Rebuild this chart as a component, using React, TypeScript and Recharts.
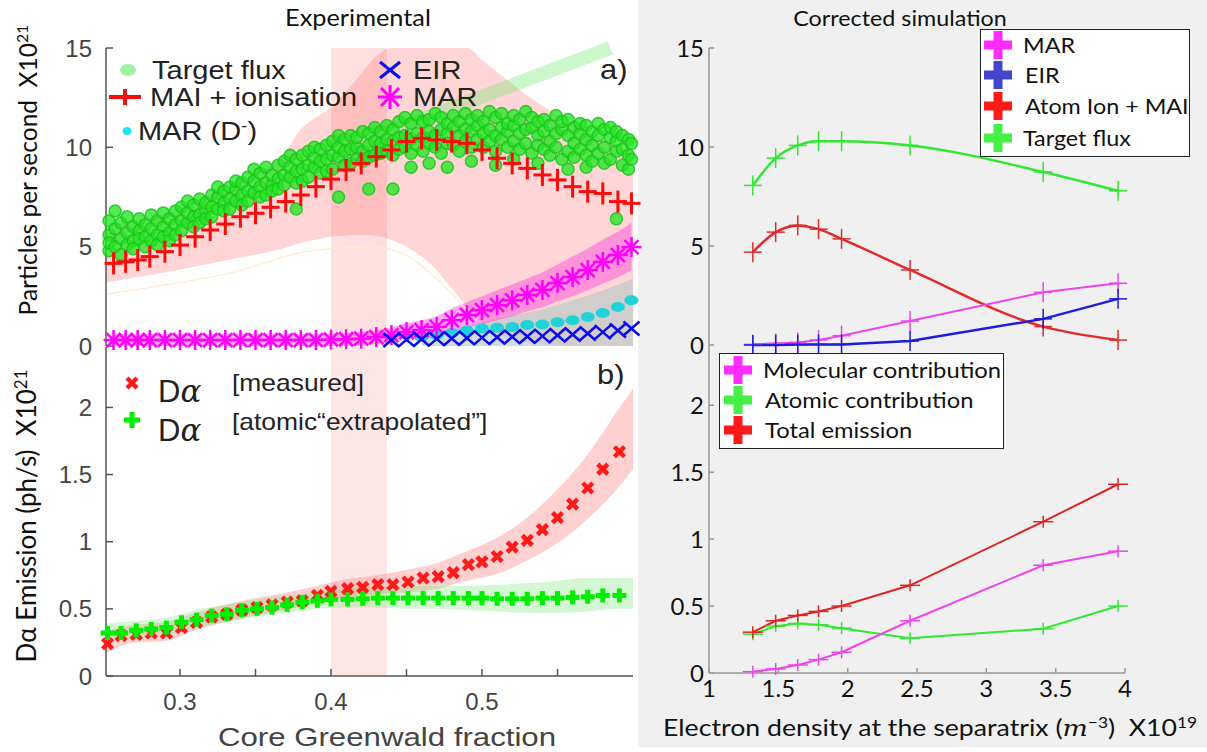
import React from 'react';
import {
  ComposedChart,
  LineChart,
  Line,
  Area,
  Scatter,
  XAxis,
  YAxis,
  ReferenceArea,
  ReferenceLine,
} from 'recharts';

const SANS = '"Liberation Sans", Arial, sans-serif';
const CAL = 'Lato, "Open Sans", sans-serif';
const AX = '#555';
const AXR = '#999';

// ---------- panel a) experimental particle balance ----------
const redX = [0.256, 0.264, 0.272, 0.28, 0.29, 0.3, 0.31, 0.32, 0.33, 0.34, 0.35, 0.36, 0.37, 0.38, 0.39, 0.4, 0.41, 0.42, 0.43, 0.44, 0.45, 0.46, 0.47, 0.48, 0.49, 0.5, 0.51, 0.52, 0.53, 0.54, 0.55, 0.56, 0.57, 0.58, 0.59, 0.599];
const maiIon = [4.16, 4.24, 4.33, 4.5, 4.75, 5.08, 5.5, 5.84, 6.14, 6.51, 6.68, 6.98, 7.27, 7.6, 8.02, 8.4, 8.86, 9.19, 9.53, 9.87, 10.29, 10.45, 10.37, 10.29, 10.2, 9.87, 9.45, 9.19, 8.94, 8.61, 8.36, 8.02, 7.77, 7.68, 7.27, 7.18];
const marA = [0.3, 0.3, 0.3, 0.3, 0.3, 0.3, 0.3, 0.3, 0.3, 0.3, 0.3, 0.3, 0.3, 0.3, 0.3, 0.32, 0.34, 0.37, 0.45, 0.55, 0.7, 0.8, 0.96, 1.3, 1.56, 1.81, 2.06, 2.3, 2.57, 2.82, 3.17, 3.47, 3.82, 4.23, 4.58, 4.98];
const marHi = [0.6, 0.6, 0.6, 0.6, 0.6, 0.6, 0.6, 0.6, 0.6, 0.6, 0.6, 0.6, 0.6, 0.6, 0.6, 0.62, 0.65, 0.7, 0.8, 0.95, 1.15, 1.3, 1.5, 1.9, 2.2, 2.5, 2.8, 3.1, 3.4, 3.7, 4.1, 4.5, 4.9, 5.35, 5.75, 6.2];
const marLo = [0, 0, 0, 0, 0, 0, 0, 0, 0, 0, 0, 0, 0, 0, 0, 0, 0, 0.05, 0.1, 0.2, 0.3, 0.35, 0.45, 0.7, 0.9, 1.1, 1.3, 1.5, 1.75, 1.95, 2.25, 2.5, 2.8, 3.15, 3.45, 3.8];

const bandAX = [0.251, 0.27, 0.29, 0.31, 0.33, 0.35, 0.37, 0.38, 0.39, 0.4, 0.41, 0.42, 0.43, 0.44, 0.45, 0.46, 0.47, 0.48, 0.49, 0.5, 0.51, 0.53, 0.56, 0.6];
const maiLo = [3.2, 3.45, 3.7, 4.0, 4.3, 4.6, 4.95, 5.2, 5.35, 5.5, 5.55, 5.6, 5.55, 5.35, 5.0, 4.5, 3.8, 2.9, 2.0, 1.2, 0.6, 0.2, 0, 0];
const maiHi = [6.0, 6.3, 6.6, 7.3, 7.9, 8.6, 9.8, 10.9, 11.5, 12.0, 12.8, 13.7, 14.6, 15, 15, 15, 15, 15, 15, 14.4, 13.8, 12.6, 11.2, 9.6];

const paleX = [0.251, 0.3, 0.335, 0.38, 0.4, 0.426, 0.449, 0.471, 0.484, 0.49];
const paleY = [2.6, 3.2, 3.7, 4.7, 4.9, 5.0, 4.6, 3.3, 2.3, 1.8];

const dmX = [0.46, 0.47, 0.48, 0.49, 0.5, 0.51, 0.52, 0.53, 0.54, 0.55, 0.56, 0.57, 0.58, 0.59, 0.599];
const dmA = [0.45, 0.55, 0.65, 0.78, 0.88, 0.92, 0.96, 1.06, 1.08, 1.2, 1.3, 1.46, 1.66, 1.96, 2.3];
const dmBandX = [0.46, 0.48, 0.5, 0.52, 0.54, 0.56, 0.58, 0.6];
const dmBandHi = [0.4, 0.8, 1.2, 1.55, 1.85, 2.3, 2.8, 3.4];

const eirX = [0.44, 0.45, 0.46, 0.47, 0.48, 0.49, 0.5, 0.51, 0.52, 0.53, 0.54, 0.55, 0.56, 0.57, 0.58, 0.59, 0.599];
const eirA = [0.3, 0.32, 0.34, 0.36, 0.38, 0.4, 0.42, 0.44, 0.46, 0.48, 0.5, 0.54, 0.58, 0.63, 0.7, 0.78, 0.88];

// target flux cloud [x, particles/s]
const fluxPts: [number, number][] = [
  [0.253, 4.8], [0.253, 5.6], [0.253, 6.3], [0.253, 5.2], [0.257, 5.9], [0.257, 6.8], [0.257, 5.0],
  [0.261, 5.4], [0.261, 6.2], [0.261, 4.6], [0.265, 5.7], [0.265, 6.5], [0.265, 5.1],
  [0.269, 5.3], [0.269, 6.0], [0.269, 4.9], [0.273, 5.8], [0.273, 6.4], [0.273, 5.4],
  [0.277, 5.5], [0.277, 6.1], [0.277, 5.0], [0.281, 5.9], [0.281, 6.6], [0.281, 5.3],
  [0.285, 5.6], [0.285, 6.3], [0.285, 5.1], [0.289, 6.0], [0.289, 6.7], [0.289, 5.5],
  [0.293, 5.7], [0.293, 6.4], [0.293, 5.3], [0.297, 6.1], [0.297, 6.8], [0.297, 5.6],
  [0.301, 6.3], [0.301, 7.0], [0.301, 5.8], [0.305, 6.2], [0.305, 6.7], [0.305, 7.3],
  [0.309, 6.5], [0.309, 7.1], [0.309, 6.0], [0.313, 6.6], [0.313, 7.4], [0.313, 6.2],
  [0.317, 6.8], [0.317, 7.2], [0.317, 6.4], [0.321, 7.0], [0.321, 7.6], [0.321, 6.5],
  [0.325, 6.9], [0.325, 7.5], [0.325, 8.0], [0.329, 7.2], [0.329, 7.8], [0.329, 6.8],
  [0.333, 7.4], [0.333, 8.0], [0.333, 6.9], [0.337, 7.3], [0.337, 7.9], [0.337, 8.3],
  [0.341, 7.6], [0.341, 8.2], [0.341, 7.1], [0.345, 7.8], [0.345, 8.5], [0.345, 7.3],
  [0.349, 7.7], [0.349, 8.3], [0.349, 8.9], [0.353, 8.0], [0.353, 8.7], [0.353, 7.5],
  [0.357, 8.2], [0.357, 9.0], [0.357, 7.6], [0.361, 8.1], [0.361, 8.6], [0.361, 7.8],
  [0.365, 8.4], [0.365, 9.1], [0.365, 7.9], [0.369, 8.6], [0.369, 9.3], [0.369, 8.1],
  [0.373, 8.5], [0.373, 9.0], [0.373, 9.6], [0.377, 8.8], [0.377, 9.4], [0.377, 8.2], [0.377, 6.9],
  [0.381, 8.9], [0.381, 9.6], [0.381, 8.3], [0.385, 9.1], [0.385, 9.8], [0.385, 8.5],
  [0.389, 9.0], [0.389, 9.5], [0.389, 10.0], [0.393, 9.3], [0.393, 9.9], [0.393, 8.7],
  [0.397, 9.4], [0.397, 10.1], [0.397, 8.8], [0.401, 9.6], [0.401, 10.3], [0.401, 8.9],
  [0.405, 9.5], [0.405, 10.0], [0.405, 10.6], [0.405, 7.5], [0.409, 9.8], [0.409, 10.4], [0.409, 9.1],
  [0.413, 9.9], [0.413, 10.6], [0.413, 9.2], [0.417, 10.0], [0.417, 10.5], [0.417, 9.4],
  [0.421, 9.8], [0.421, 10.8], [0.421, 9.3], [0.425, 10.1], [0.425, 10.7], [0.425, 9.5], [0.425, 7.9],
  [0.429, 10.3], [0.429, 11.0], [0.429, 9.6], [0.433, 10.2], [0.433, 10.8], [0.433, 9.7],
  [0.437, 10.4], [0.437, 11.1], [0.437, 9.8], [0.441, 10.3], [0.441, 10.9], [0.441, 9.6], [0.441, 7.9],
  [0.445, 10.5], [0.445, 11.3], [0.445, 9.9], [0.449, 10.6], [0.449, 11.5], [0.449, 10.0],
  [0.453, 10.4], [0.453, 11.2], [0.453, 9.7], [0.453, 9.0], [0.457, 10.7], [0.457, 11.6], [0.457, 10.1],
  [0.461, 10.5], [0.461, 11.3], [0.461, 9.8], [0.465, 10.8], [0.465, 11.4], [0.465, 10.2], [0.465, 9.2],
  [0.469, 10.6], [0.469, 11.7], [0.469, 10.0], [0.473, 10.9], [0.473, 11.5], [0.473, 9.7],
  [0.477, 10.7], [0.477, 11.2], [0.477, 10.2], [0.477, 9.0], [0.481, 11.0], [0.481, 11.6], [0.481, 10.1],
  [0.485, 10.6], [0.485, 11.3], [0.485, 9.8], [0.489, 10.9], [0.489, 11.7], [0.489, 10.3],
  [0.493, 10.8], [0.493, 11.4], [0.493, 10.0], [0.493, 9.3], [0.497, 11.1], [0.497, 11.6], [0.497, 10.4],
  [0.501, 10.7], [0.501, 11.3], [0.501, 10.0], [0.505, 10.9], [0.505, 11.8], [0.505, 10.3],
  [0.509, 10.6], [0.509, 11.5], [0.509, 9.8], [0.509, 9.1], [0.513, 11.0], [0.513, 11.7], [0.513, 10.4],
  [0.517, 10.8], [0.517, 11.2], [0.517, 10.0], [0.521, 11.1], [0.521, 11.6], [0.521, 10.3], [0.521, 9.4],
  [0.525, 10.7], [0.525, 11.4], [0.525, 9.9], [0.529, 10.9], [0.529, 11.8], [0.529, 10.2],
  [0.533, 11.0], [0.533, 11.5], [0.533, 9.7], [0.537, 10.6], [0.537, 11.3], [0.537, 10.1], [0.537, 9.2],
  [0.541, 10.8], [0.541, 11.4], [0.541, 9.9], [0.545, 11.1], [0.545, 10.3], [0.545, 9.6],
  [0.549, 10.7], [0.549, 11.6], [0.549, 10.0], [0.553, 10.9], [0.553, 11.3], [0.553, 9.4],
  [0.557, 10.6], [0.557, 11.4], [0.557, 9.8], [0.557, 8.9], [0.561, 11.0], [0.561, 10.2], [0.561, 9.5],
  [0.565, 10.7], [0.565, 11.2], [0.565, 9.9], [0.569, 10.4], [0.569, 11.1], [0.569, 9.6], [0.569, 9.0],
  [0.573, 10.8], [0.573, 10.1], [0.573, 9.3], [0.577, 10.6], [0.577, 11.2], [0.577, 9.7],
  [0.581, 10.9], [0.581, 10.0], [0.581, 9.2], [0.585, 10.5], [0.585, 11.0], [0.585, 9.4],
  [0.589, 10.3], [0.589, 10.8], [0.589, 9.8], [0.589, 6.4], [0.593, 10.6], [0.593, 9.9], [0.593, 9.1],
  [0.597, 10.4], [0.597, 9.6], [0.597, 8.9], [0.599, 10.2], [0.599, 9.4],
];

// ---------- panel b) D-alpha emission ----------
const dalX = [0.252, 0.261, 0.271, 0.281, 0.291, 0.301, 0.311, 0.321, 0.331, 0.341, 0.351, 0.361, 0.371, 0.381, 0.391, 0.4, 0.411, 0.421, 0.431, 0.441, 0.451, 0.461, 0.471, 0.481, 0.491, 0.5, 0.51, 0.52, 0.53, 0.54, 0.55, 0.56, 0.57, 0.58, 0.591];
const dalMeas = [0.24, 0.3, 0.31, 0.32, 0.32, 0.36, 0.4, 0.44, 0.46, 0.49, 0.51, 0.53, 0.55, 0.56, 0.6, 0.63, 0.65, 0.66, 0.68, 0.68, 0.7, 0.73, 0.74, 0.77, 0.83, 0.85, 0.89, 0.96, 1.01, 1.09, 1.18, 1.28, 1.4, 1.54, 1.67];
const dalAtom = [0.32, 0.32, 0.34, 0.35, 0.36, 0.4, 0.42, 0.45, 0.46, 0.49, 0.5, 0.51, 0.53, 0.55, 0.56, 0.57, 0.57, 0.575, 0.58, 0.58, 0.58, 0.58, 0.58, 0.58, 0.58, 0.58, 0.575, 0.575, 0.575, 0.58, 0.58, 0.585, 0.59, 0.6, 0.6];
const bandBX = [0.251, 0.27, 0.29, 0.31, 0.33, 0.35, 0.37, 0.39, 0.41, 0.43, 0.45, 0.47, 0.49, 0.51, 0.53, 0.55, 0.57, 0.59, 0.6];
const measHi = [0.34, 0.38, 0.4, 0.47, 0.53, 0.58, 0.62, 0.67, 0.72, 0.75, 0.79, 0.84, 0.93, 1.03, 1.18, 1.39, 1.65, 1.98, 2.14];
const measLo = [0.17, 0.25, 0.26, 0.34, 0.4, 0.45, 0.49, 0.54, 0.58, 0.61, 0.62, 0.65, 0.71, 0.76, 0.86, 0.99, 1.17, 1.4, 1.54];
const atomHi = [0.39, 0.41, 0.43, 0.49, 0.53, 0.57, 0.6, 0.63, 0.65, 0.66, 0.67, 0.67, 0.67, 0.68, 0.69, 0.71, 0.73, 0.73, 0.73];
const atomLo = [0.26, 0.28, 0.3, 0.36, 0.4, 0.44, 0.47, 0.5, 0.51, 0.51, 0.5, 0.5, 0.49, 0.48, 0.47, 0.47, 0.48, 0.5, 0.5];

// ---------- corrected simulation ----------
const simX = [1.316, 1.481, 1.64, 1.79, 1.956, 2.45, 3.41, 3.95];
const simTarget = [8.06, 9.44, 10.08, 10.29, 10.29, 10.08, 8.74, 7.79];
const simAtomIon = [4.69, 5.7, 6.04, 5.85, 5.36, 3.79, 0.93, 0.25];
const simMar = [0.03, 0.08, 0.13, 0.25, 0.47, 1.21, 2.66, 3.12];
const simEir = [0.0, 0.0, 0.02, 0.03, 0.03, 0.2, 1.32, 2.33];
const emTotal = [0.305, 0.39, 0.43, 0.46, 0.5, 0.655, 1.13, 1.41];
const emAtomic = [0.29, 0.35, 0.37, 0.36, 0.335, 0.26, 0.33, 0.5];
const emMolecular = [0.01, 0.03, 0.06, 0.1, 0.155, 0.39, 0.805, 0.91];

const xTicksL = [0.3, 0.35, 0.4, 0.45, 0.5, 0.55];
const xTicksR = [1, 1.5, 2, 2.5, 3, 3.5, 4];

type Row = { x: number; [k: string]: any };
function merge(sets: [number[], string, any[]][]): Row[] {
  const m = new Map<number, Row>();
  sets.forEach(([xs, key, vals]) => {
    xs.forEach((x, i) => {
      const r = m.get(x) || { x };
      r[key] = vals[i];
      m.set(x, r);
    });
  });
  return Array.from(m.values()).sort((a, b) => a.x - b.x);
}
const pair = (lo: number[], hi: number[]) => lo.map((l, i) => [l, hi[i]]);
const pts = (xs: number[], ys: number[]) => xs.map((x, i) => ({ x, y: ys[i] }));

const rowsA = merge([
  [bandAX, 'maiBand', pair(maiLo, maiHi)],
  [paleX, 'pale', paleY],
  [redX, 'marBand', pair(marLo, marHi)],
  [dmBandX, 'dmBand', pair(dmBandHi.map(() => 0), dmBandHi)],
]);
const rowsB = merge([
  [bandBX, 'measBand', pair(measLo, measHi)],
  [bandBX, 'atomBand', pair(atomLo, atomHi)],
]);
const rowsTop = simX.map((x, i) => ({ x, target: simTarget[i], atom: simAtomIon[i], mar: simMar[i], eir: simEir[i] }));
const rowsBot = simX.map((x, i) => ({ x, total: emTotal[i], atomic: emAtomic[i], molecular: emMolecular[i] }));

const fmtL = (v: number) => (Math.abs(v * 10 - Math.round(v * 10)) < 1e-6 ? v.toFixed(1) : '');

// ---------- markers ----------
const RedPlus = (p: any) => (
  <g stroke="#ff0a0a" strokeWidth={3}>
    <line x1={p.cx - 9} x2={p.cx + 9} y1={p.cy} y2={p.cy} />
    <line x1={p.cx} x2={p.cx} y1={p.cy - 11} y2={p.cy + 11} />
  </g>
);
const Asterisk = (p: any) => (
  <g stroke="#ff00ff" strokeWidth={2.5}>
    <line x1={p.cx - 10} x2={p.cx + 10} y1={p.cy} y2={p.cy} />
    <line x1={p.cx} x2={p.cx} y1={p.cy - 10} y2={p.cy + 10} />
    <line x1={p.cx - 7} x2={p.cx + 7} y1={p.cy - 7} y2={p.cy + 7} />
    <line x1={p.cx - 7} x2={p.cx + 7} y1={p.cy + 7} y2={p.cy - 7} />
  </g>
);
const CyanDot = (p: any) => <ellipse cx={p.cx} cy={p.cy} rx={7} ry={5} fill="#1fd3d8" />;
const BlueX = (p: any) => (
  <g stroke="#0a0aee" strokeWidth={2.5}>
    <line x1={p.cx - 8} x2={p.cx + 8} y1={p.cy - 7} y2={p.cy + 7} />
    <line x1={p.cx - 8} x2={p.cx + 8} y1={p.cy + 7} y2={p.cy - 7} />
  </g>
);
const FluxDot = (p: any) => (
  <circle cx={p.cx} cy={p.cy} r={6} fill="#22e622" fillOpacity={0.78} stroke="#1cc41c" strokeOpacity={0.85} strokeWidth={1.5} />
);
const MeasX = (p: any) => (
  <g stroke="#ff1a1a" strokeWidth={4.5}>
    <line x1={p.cx - 5} x2={p.cx + 5} y1={p.cy - 5} y2={p.cy + 5} />
    <line x1={p.cx - 5} x2={p.cx + 5} y1={p.cy + 5} y2={p.cy - 5} />
  </g>
);
const AtomPlus = (p: any) => (
  <g stroke="#00ee00" strokeWidth={5}>
    <line x1={p.cx - 7} x2={p.cx + 7} y1={p.cy} y2={p.cy} />
    <line x1={p.cx} x2={p.cx} y1={p.cy - 7} y2={p.cy + 7} />
  </g>
);
const thinPlus = (color: string, hw: number, hh: number) => (p: any) => (
  <g key={`d${p.index}`} stroke={color} strokeWidth={1.5}>
    <line x1={p.cx - hw} x2={p.cx + hw} y1={p.cy} y2={p.cy} />
    <line x1={p.cx} x2={p.cx} y1={p.cy - hh} y2={p.cy + hh} />
  </g>
);

// ---------- html helpers ----------
function Txt({ x, y, size, font = SANS, color = '#222', sx = 1, center = false, children, style }: any) {
  return (
    <div
      style={{
        position: 'absolute',
        left: x,
        top: y,
        transform: `translate(${center ? '-50%' : '0'},-50%) scaleX(${sx})`,
        transformOrigin: center ? 'center' : 'left center',
        fontFamily: font,
        fontSize: size,
        color,
        whiteSpace: 'nowrap',
        lineHeight: 1,
        ...style,
      }}
    >
      {children}
    </div>
  );
}
function VTxt({ x, y, size, children }: any) {
  return (
    <div
      style={{
        position: 'absolute',
        left: x,
        top: y,
        transform: 'translate(-50%,-50%) rotate(-90deg)',
        fontFamily: CAL,
        fontSize: size,
        color: '#111',
        whiteSpace: 'nowrap',
        lineHeight: 1,
      }}
    >
      {children}
    </div>
  );
}
function BigPlus({ x, y, color, s = 28, t = 9 }: any) {
  return (
    <svg style={{ position: 'absolute', left: x - s / 2, top: y - s / 2 }} width={s} height={s}>
      <rect x={0} y={(s - t) / 2} width={s} height={t} fill={color} />
      <rect x={(s - t) / 2} y={0} width={t} height={s} fill={color} />
    </svg>
  );
}
function Icon({ x, y, w, h, children }: any) {
  return (
    <svg style={{ position: 'absolute', left: x - w / 2, top: y - h / 2, overflow: 'visible' }} width={w} height={h}>
      {children}
    </svg>
  );
}
const sup = (s: string) => <sup style={{ fontSize: '0.65em', verticalAlign: '0.55em', lineHeight: 0 }}>{s}</sup>;

const tickL = { fontSize: 24, fill: '#444', fontFamily: SANS };
const tickR = { fontSize: 24, fill: '#111', fontFamily: CAL };

export default function App() {
  return (
    <div style={{ position: 'absolute', left: 0, top: 0, width: 1207, height: 752, background: '#fff', overflow: 'hidden' }}>
      <div style={{ position: 'absolute', left: 638, top: 0, width: 569, height: 747, background: '#f0f0f0' }} />

      {/* a) */}
      <div style={{ position: 'absolute', left: 0, top: 0 }}>
        <ComposedChart width={650} height={372} data={rowsA} margin={{ top: 48, right: 17, bottom: 26, left: 0 }}>
          <XAxis dataKey="x" type="number" domain={[0.251, 0.6]} ticks={xTicksL} tick={false} height={0} tickSize={-7} stroke={AX} strokeWidth={1.5} />
          <XAxis xAxisId="top" orientation="top" dataKey="x" type="number" domain={[0.251, 0.6]} ticks={xTicksL} tick={false} height={0} tickSize={-7} stroke={AX} strokeWidth={1.5} />
          <YAxis type="number" domain={[0, 15]} ticks={[0, 5, 10, 15]} interval={0} width={106} tickSize={-7} tickMargin={21} tick={tickL} stroke={AX} strokeWidth={1.5} />
          <YAxis yAxisId="r" orientation="right" type="number" domain={[0, 15]} ticks={[0, 5, 10, 15]} tick={false} width={0} tickSize={-7} stroke={AX} strokeWidth={1.5} />
          <Area dataKey="maiBand" type="monotone" fill="#ff9c9c" fillOpacity={0.42} stroke="none" connectNulls isAnimationActive={false} />
          <Line dataKey="pale" type="monotone" stroke="#fdecd2" strokeWidth={1.2} dot={false} connectNulls isAnimationActive={false} />
          <Area dataKey="dmBand" type="monotone" fill="#b4c8c8" fillOpacity={0.6} stroke="none" connectNulls isAnimationActive={false} />
          <Area dataKey="marBand" type="monotone" fill="#ff3ddc" fillOpacity={0.45} stroke="none" connectNulls isAnimationActive={false} />
          <ReferenceArea x1={0.4} x2={0.437} fill="#ff7070" fillOpacity={0.22} stroke="none" />
          <ReferenceLine segment={[{ x: 0.439, y: 10.8 }, { x: 0.585, y: 15 }]} stroke="#6ee86e" strokeOpacity={0.35} strokeWidth={14} />
          <Scatter data={fluxPts.map(([x, y]) => ({ x, y }))} dataKey="y" shape={FluxDot} isAnimationActive={false} />
          <Scatter data={pts(redX, maiIon)} dataKey="y" shape={RedPlus} isAnimationActive={false} />
          <Scatter data={pts(dmX, dmA)} dataKey="y" shape={CyanDot} isAnimationActive={false} />
          <Scatter data={pts(redX, marA)} dataKey="y" shape={Asterisk} isAnimationActive={false} />
          <Scatter data={pts(eirX, eirA)} dataKey="y" shape={BlueX} isAnimationActive={false} />
        </ComposedChart>
      </div>

      {/* b) */}
      <div style={{ position: 'absolute', left: 0, top: 340 }}>
        <ComposedChart width={650} height={412} data={rowsB} margin={{ top: 7, right: 17, bottom: 0, left: 0 }}>
          <XAxis dataKey="x" type="number" domain={[0.251, 0.6]} ticks={xTicksL} interval={0} tickFormatter={fmtL} height={76} tickSize={-7} tickMargin={24} tick={tickL} stroke={AX} strokeWidth={1.5} />
          <XAxis xAxisId="top" orientation="top" dataKey="x" type="number" domain={[0.251, 0.6]} ticks={xTicksL} tick={false} height={0} tickSize={-7} stroke={AX} strokeWidth={1.5} />
          <YAxis type="number" domain={[0, 2.45]} ticks={[0, 0.5, 1, 1.5, 2]} interval={0} width={106} tickSize={-7} tickMargin={21} tick={tickL} stroke={AX} strokeWidth={1.5} />
          <YAxis yAxisId="r" orientation="right" type="number" domain={[0, 2.45]} ticks={[0, 0.5, 1, 1.5, 2]} tick={false} width={0} tickSize={-7} stroke={AX} strokeWidth={1.5} />
          <ReferenceArea x1={0.4} x2={0.437} fill="#ff8080" fillOpacity={0.2} stroke="none" />
          <Area dataKey="measBand" type="monotone" fill="#ff8a8a" fillOpacity={0.4} stroke="none" isAnimationActive={false} />
          <Area dataKey="atomBand" type="monotone" fill="#7ee87e" fillOpacity={0.35} stroke="none" isAnimationActive={false} />
          <Scatter data={pts(dalX, dalMeas)} dataKey="y" shape={MeasX} isAnimationActive={false} />
          <Scatter data={pts(dalX, dalAtom)} dataKey="y" shape={AtomPlus} isAnimationActive={false} />
        </ComposedChart>
      </div>

      {/* corrected simulation, particle balance */}
      <div style={{ position: 'absolute', left: 640, top: 0 }}>
        <LineChart width={567} height={372} data={rowsTop} margin={{ top: 48, right: 82, bottom: 27, left: 0 }}>
          <XAxis dataKey="x" type="number" domain={[1, 4]} ticks={xTicksR} tick={false} height={0} tickSize={-5} stroke={AXR} strokeWidth={1.5} />
          <XAxis xAxisId="top" orientation="top" dataKey="x" type="number" domain={[1, 4]} ticks={xTicksR} tick={false} height={0} tickSize={-5} stroke={AXR} strokeWidth={1.5} />
          <YAxis type="number" domain={[0, 15]} ticks={[0, 5, 10, 15]} interval={0} width={69} tickSize={-5} tickMargin={10} tick={tickR} stroke={AXR} strokeWidth={1.5} />
          <YAxis yAxisId="r" orientation="right" type="number" domain={[0, 15]} ticks={[0, 5, 10, 15]} tick={false} width={0} tickSize={-5} stroke={AXR} strokeWidth={1.5} />
          <Line dataKey="target" type="monotone" stroke="#2fe82f" strokeWidth={2.5} dot={thinPlus('#2fe82f', 9, 10)} isAnimationActive={false} />
          <Line dataKey="atom" type="monotone" stroke="#e22a2a" strokeWidth={2.5} dot={thinPlus('#e22a2a', 9, 10)} isAnimationActive={false} />
          <Line dataKey="mar" type="linear" stroke="#ee44ee" strokeWidth={2} dot={thinPlus('#ee44ee', 9, 10)} isAnimationActive={false} />
          <Line dataKey="eir" type="linear" stroke="#1c1ce0" strokeWidth={2.5} dot={thinPlus('#1c1ce0', 9, 10)} isAnimationActive={false} />
        </LineChart>
      </div>

      {/* corrected simulation, emission */}
      <div style={{ position: 'absolute', left: 640, top: 340 }}>
        <LineChart width={567} height={412} data={rowsBot} margin={{ top: 5, right: 82, bottom: 0, left: 0 }}>
          <XAxis dataKey="x" type="number" domain={[1, 4]} ticks={xTicksR} interval={0} height={79} tickSize={-5} tickMargin={12} tick={tickR} stroke={AXR} strokeWidth={1.5} />
          <XAxis xAxisId="top" orientation="top" dataKey="x" type="number" domain={[1, 4]} ticks={xTicksR} tick={false} height={0} tickSize={-5} stroke={AXR} strokeWidth={1.5} />
          <YAxis type="number" domain={[0, 2.45]} ticks={[0, 0.5, 1, 1.5, 2]} interval={0} width={69} tickSize={-5} tickMargin={10} tick={tickR} stroke={AXR} strokeWidth={1.5} />
          <YAxis yAxisId="r" orientation="right" type="number" domain={[0, 2.45]} ticks={[0, 0.5, 1, 1.5, 2]} tick={false} width={0} tickSize={-5} stroke={AXR} strokeWidth={1.5} />
          <Line dataKey="atomic" type="linear" stroke="#33e833" strokeWidth={2} dot={thinPlus('#33e833', 10, 6)} isAnimationActive={false} />
          <Line dataKey="molecular" type="linear" stroke="#ee44ee" strokeWidth={2} dot={thinPlus('#ee44ee', 10, 6)} isAnimationActive={false} />
          <Line dataKey="total" type="linear" stroke="#e02424" strokeWidth={2} dot={thinPlus('#e02424', 10, 6)} isAnimationActive={false} />
        </LineChart>
      </div>

      {/* titles and axis labels */}
      <Txt x={358} y={17} size={23} font={CAL} color="#111" center sx={1.1}>Experimental</Txt>
      <Txt x={900} y={18} size={22} font={CAL} color="#111" center sx={1.06}>Corrected simulation</Txt>
      <VTxt x={28} y={170} size={24.5}>Particles per second&nbsp;&nbsp;X10{sup('21')}</VTxt>
      <VTxt x={26} y={516} size={26}>Dα Emission (ph/s)&nbsp;&nbsp;X10{sup('21')}</VTxt>
      <Txt x={387} y={737} size={26} color="#444" center sx={1.2}>Core Greenwald fraction</Txt>
      <Txt x={663} y={728} size={23} font={CAL} color="#111" sx={1.16}>
        Electron density at the separatrix (<i style={{ fontFamily: '"DejaVu Serif", serif' }}>m</i>{sup('−3')})&nbsp;&nbsp;X10{sup('19')}
      </Txt>

      {/* legend a) */}
      <Icon x={128} y={70} w={18} h={14}><ellipse cx={9} cy={7} rx={8} ry={6} fill="#9ff09f" /></Icon>
      <Txt x={152} y={70} size={25} sx={1.16}>Target flux</Txt>
      <Icon x={125} y={97} w={34} h={18}>
        <line x1={1} x2={33} y1={9} y2={9} stroke="#ff0a0a" strokeWidth={4} />
        <line x1={17} x2={17} y1={1} y2={17} stroke="#ff0a0a" strokeWidth={4} />
      </Icon>
      <Txt x={150} y={97} size={25} sx={1.16}>MAI + ionisation</Txt>
      <Icon x={127} y={131} w={10} h={10}><ellipse cx={5} cy={5} rx={4.5} ry={4} fill="#1fe3f0" /></Icon>
      <Txt x={138} y={131} size={25} sx={1.16}>MAR (D{sup('-')})</Txt>
      <Icon x={390} y={70} w={22} h={18}>
        <line x1={1} x2={21} y1={1} y2={17} stroke="#0a0aee" strokeWidth={3} />
        <line x1={1} x2={21} y1={17} y2={1} stroke="#0a0aee" strokeWidth={3} />
      </Icon>
      <Txt x={413} y={70} size={25} sx={1.16}>EIR</Txt>
      <Icon x={390} y={97} w={24} h={24}>
        <g stroke="#ff00ff" strokeWidth={3}>
          <line x1={0} x2={24} y1={12} y2={12} />
          <line x1={12} x2={12} y1={0} y2={24} />
          <line x1={3} x2={21} y1={3} y2={21} />
          <line x1={3} x2={21} y1={21} y2={3} />
        </g>
      </Icon>
      <Txt x={413} y={97} size={25} sx={1.16}>MAR</Txt>
      <Txt x={600} y={70} size={28} sx={1.1}>a)</Txt>

      {/* legend b) */}
      <Icon x={132} y={383} w={14} h={14}>
        <g stroke="#ff1a1a" strokeWidth={4.5}>
          <line x1={2} x2={12} y1={2} y2={12} />
          <line x1={2} x2={12} y1={12} y2={2} />
        </g>
      </Icon>
      <Txt x={158} y={391} size={31}>D<span style={{ fontFamily: '"DejaVu Serif", serif', fontStyle: 'italic' }}>α</span></Txt>
      <Txt x={232} y={383} size={24} sx={1.1}>[measured]</Txt>
      <Icon x={132} y={420} w={16} h={16}>
        <g stroke="#00ee00" strokeWidth={5}>
          <line x1={0} x2={16} y1={8} y2={8} />
          <line x1={8} x2={8} y1={0} y2={16} />
        </g>
      </Icon>
      <Txt x={158} y={430} size={31}>D<span style={{ fontFamily: '"DejaVu Serif", serif', fontStyle: 'italic' }}>α</span></Txt>
      <Txt x={232} y={422} size={24} sx={1.1}>[atomic“extrapolated”]</Txt>
      <Txt x={597} y={375} size={28} sx={1.1}>b)</Txt>

      {/* legend, simulated particle balance */}
      <div style={{ position: 'absolute', left: 980, top: 29, width: 210, height: 128, background: '#fff', border: '1.5px solid #222', boxSizing: 'border-box' }} />
      <BigPlus x={998} y={45} color="#ff2bff" />
      <Txt x={1023} y={45} size={22} font={CAL} color="#111" sx={1.06}>MAR</Txt>
      <BigPlus x={998} y={75} color="#4444cc" />
      <Txt x={1025} y={75} size={22} font={CAL} color="#111" sx={1.06}>EIR</Txt>
      <BigPlus x={998} y={106} color="#ff1a1a" />
      <Txt x={1025} y={106} size={22} font={CAL} color="#111" sx={1.06}>Atom Ion + MAI</Txt>
      <BigPlus x={998} y={138} color="#44f044" />
      <Txt x={1023} y={138} size={22} font={CAL} color="#111" sx={1.06}>Target flux</Txt>

      {/* legend, simulated emission */}
      <div style={{ position: 'absolute', left: 719, top: 353, width: 285, height: 96, background: '#fff', border: '1.5px solid #222', boxSizing: 'border-box' }} />
      <BigPlus x={738} y={370} color="#ff2bff" />
      <Txt x={763} y={370} size={22} font={CAL} color="#111" sx={1.08}>Molecular contribution</Txt>
      <BigPlus x={738} y={400} color="#44f044" />
      <Txt x={765} y={400} size={22} font={CAL} color="#111" sx={1.08}>Atomic contribution</Txt>
      <BigPlus x={738} y={430} color="#ff1a1a" />
      <Txt x={765} y={430} size={22} font={CAL} color="#111" sx={1.08}>Total emission</Txt>
    </div>
  );
}
